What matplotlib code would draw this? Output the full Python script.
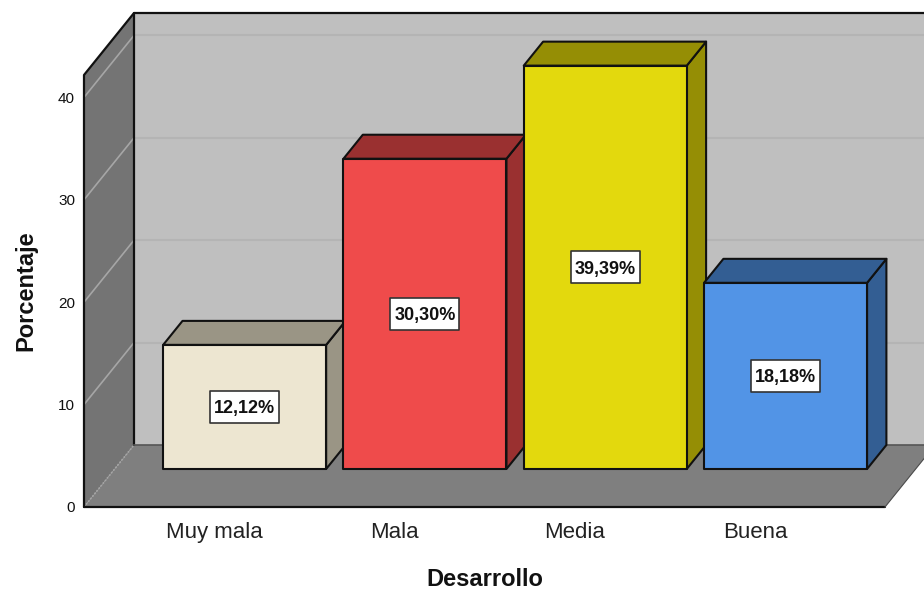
import matplotlib
matplotlib.use("Agg")
import matplotlib.pyplot as plt
from matplotlib.patches import Polygon

plt.rcParams['font.family'] = ['Liberation Sans', 'DejaVu Sans']

categorias = ["Muy mala", "Mala", "Media", "Buena"]
porcentajes = [12.12, 30.30, 39.39, 18.18]
etiquetas = ["12,12%", "30,30%", "39,39%", "18,18%"]
ticks_y = [0, 10, 20, 30, 40]
frente = ["#EDE6D1", "#EF4B4B", "#E3D90D", "#5294E6"]
lado = ["#9A9585", "#9A3030", "#958E05", "#335E93"]

W, H = 924, 590
PX_X = 180.3      # pixels per category
PX_Y = 10.24      # pixels per percent unit
DX = 50 / PX_X    # depth offset
DY = 62 / PX_Y
YMAX = 432 / PX_Y
XMIN = -130 / PX_X
XMAX = 671 / PX_X


def p(x, y, d):
    # oblique projection of a point at depth d (0 front, 1 back)
    return (x + d * DX, y + d * DY)


def cara(ax, pts, color, ec="#111111", lw=1.5, z=1):
    ax.add_patch(Polygon(pts, closed=True, fc=color, ec=ec, lw=lw, zorder=z,
                         clip_on=False, joinstyle="round"))


fig = plt.figure(figsize=(W / 100, H / 100), dpi=100)
ax = fig.add_axes([84 / W, (H - 507) / H, 801 / W, 432 / H])
ax.set_xlim(XMIN, XMAX)
ax.set_ylim(0, YMAX)
ax.patch.set_visible(False)
for s in ax.spines.values():
    s.set_visible(False)

# walls and floor
cara(ax, [p(XMIN, 0, 1), p(XMAX + 1, 0, 1), p(XMAX + 1, YMAX, 1), p(XMIN, YMAX, 1)], "#BFBFBF", ec="none", lw=0)
cara(ax, [p(XMIN, 0, 0), p(XMIN, 0, 1), p(XMIN, YMAX, 1), p(XMIN, YMAX, 0)], "#747474", ec="none", lw=0)
cara(ax, [p(XMIN, 0, 0), p(XMAX, 0, 0), p(XMAX, 0, 1), p(XMIN, 0, 1)], "#7F7F7F", ec="none", lw=0, z=1.1)

for t in ticks_y:
    if t > 0:
        x0, y0 = p(XMIN, t, 1)
        x1, y1 = p(XMAX, t, 1)
        ax.plot([x0, x1 + DX * 3], [y0, y1], color="#B4B4B4", lw=1.5, zorder=1.2, clip_on=False)
    x0, y0 = p(XMIN, t, 0)
    x1, y1 = p(XMIN, t, 1)
    ax.plot([x0, x1], [y0, y1], color="#A6A6A6", lw=1.2, ls=(0, (1, 1)) if t == 0 else "-",
            zorder=1.2, clip_on=False)

borde = dict(color="#111111", lw=1.6, zorder=1.3, clip_on=False, solid_capstyle="round")
ax.plot(*zip(p(XMIN, 0, 0), p(XMIN, YMAX, 0), p(XMIN, YMAX, 1), p(XMAX + 1, YMAX, 1)), **borde)
ax.plot(*zip(p(XMIN, YMAX, 1), p(XMIN, 0, 1)), **borde)
ax.plot(*zip(p(XMIN, 0, 0), p(XMAX, 0, 0)), **borde)
ax.plot(*zip(p(XMAX, 0, 0), p(XMAX, 0, 1)), color="#4a4a4a", lw=0.8, zorder=1.3, clip_on=False)
ax.plot(*zip(p(XMIN, 0, 1), p(XMAX + 1, 0, 1)), color="#555555", lw=1.2, zorder=1.3, clip_on=False)

# bars
ANCHO = 81.5 / PX_X
D0 = 38 / 62
D1 = 1.0
CAJA_X = 34.5 / PX_X
CAJA_Y = 16 / PX_Y
for i, v in enumerate(porcentajes):
    a, b = i - ANCHO, i + ANCHO
    cara(ax, [p(b, 0, D0), p(b, 0, D1), p(b, v, D1), p(b, v, D0)], lado[i], z=2)
    cara(ax, [p(a, v, D0), p(b, v, D0), p(b, v, D1), p(a, v, D1)], lado[i], z=2)
    cara(ax, [p(a, 0, D0), p(b, 0, D0), p(b, v, D0), p(a, v, D0)], frente[i], z=3)
    cx, cy = p(i, v / 2, D0)
    cara(ax, [(cx - CAJA_X, cy - CAJA_Y), (cx + CAJA_X, cy - CAJA_Y),
              (cx + CAJA_X, cy + CAJA_Y), (cx - CAJA_X, cy + CAJA_Y)], "white", ec="#333333", lw=1.2, z=4)
    ax.text(cx, cy, etiquetas[i], ha="center", va="center_baseline", fontsize=13, fontweight="bold",
            color="#111111", zorder=5)

ax.set_xticks(range(len(categorias)))
ax.set_xticklabels(categorias, fontsize=16, color="#222222")
ax.set_yticks(ticks_y)
ax.set_yticklabels([str(t) for t in ticks_y], fontsize=11, color="#111111")
ax.tick_params(axis="x", length=0, pad=10.5)
ax.tick_params(axis="y", length=0, pad=6.5)
ax.set_xlabel("Desarrollo", fontsize=17, fontweight="bold", labelpad=18, color="#111111")
ax.set_ylabel("Porcentaje", fontsize=17, fontweight="bold", labelpad=15, color="#111111")

fig.savefig("out.png", dpi=100)
